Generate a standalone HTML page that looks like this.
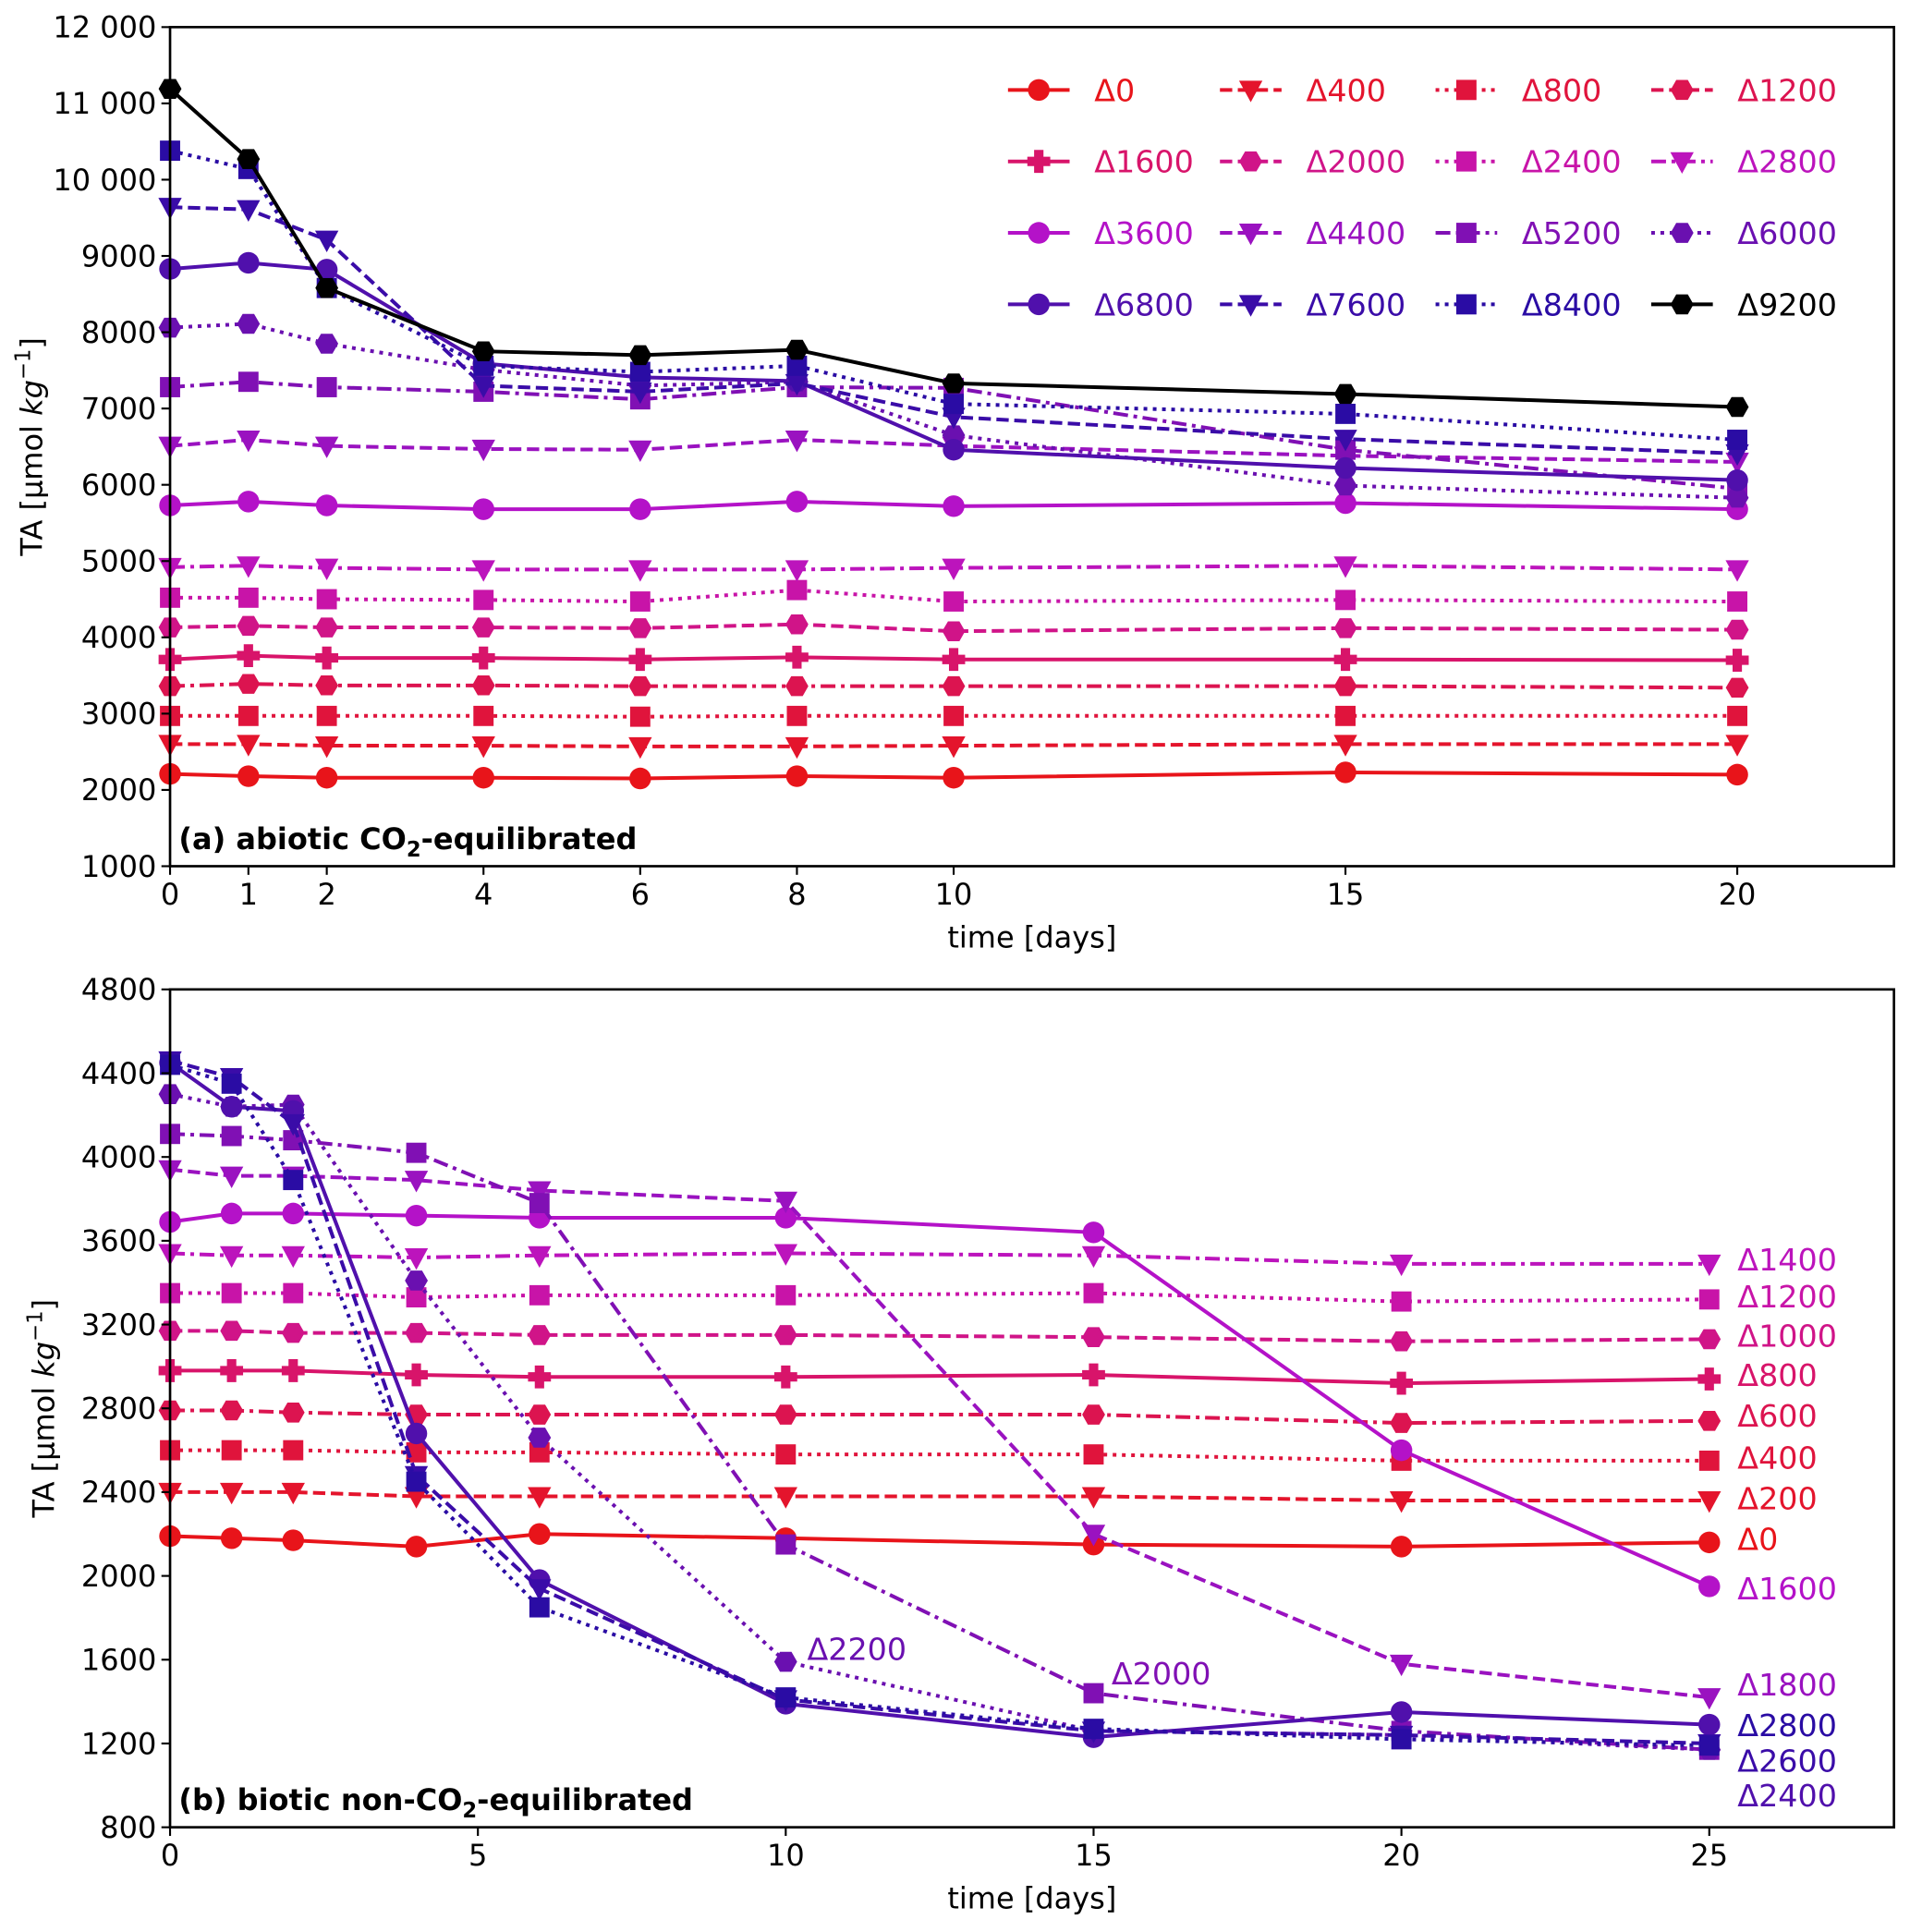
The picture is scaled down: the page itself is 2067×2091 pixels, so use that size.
<!DOCTYPE html>
<html><head><meta charset="utf-8">
<style>
html,body{margin:0;padding:0;background:#fff;}
svg{display:block;}
text{font-family:"DejaVu Sans","Liberation Sans",sans-serif;}
</style></head>
<body>
<svg id="chart" xmlns="http://www.w3.org/2000/svg" width="2067" height="2091" viewBox="0 0 1550 1568" preserveAspectRatio="none">
<g id="panelA"></g>
<g id="panelB"></g>
</svg>
<script>
// ---------- data: panel (a) ----------
const daysA = [0,1,2,4,6,8,10,15,20];
const xTicksA = [0,1,2,4,6,8,10,15,20];
const yTicksA = [1000,2000,3000,4000,5000,6000,7000,8000,9000,10000,11000,12000];
const yTickLabelsA = ["1000","2000","3000","4000","5000","6000","7000","8000","9000","10 000","11 000","12 000"];
const labelsA = ["Δ0","Δ400","Δ800","Δ1200","Δ1600","Δ2000","Δ2400","Δ2800","Δ3600","Δ4400","Δ5200","Δ6000","Δ6800","Δ7600","Δ8400","Δ9200"];
const a0    = [2210,2180,2160,2160,2150,2180,2160,2230,2200];
const a400  = [2600,2600,2580,2580,2570,2570,2580,2600,2600];
const a800  = [2970,2970,2970,2970,2960,2970,2970,2970,2970];
const a1200 = [3360,3390,3370,3370,3360,3360,3360,3360,3340];
const a1600 = [3710,3760,3730,3730,3710,3740,3710,3710,3700];
const a2000 = [4130,4150,4130,4130,4120,4170,4080,4120,4100];
const a2400 = [4520,4520,4500,4490,4470,4620,4470,4490,4470];
const a2800 = [4920,4940,4910,4890,4890,4890,4910,4940,4890];
const a3600 = [5730,5780,5730,5680,5680,5780,5720,5760,5680];
const a4400 = [6510,6590,6510,6470,6460,6590,6510,6380,6300];
const a5200 = [7280,7350,7280,7220,7120,7280,7270,6460,5950];
const a6000 = [8060,8110,7850,7510,7300,7350,6650,5990,5830];
const a6800 = [8830,8910,8820,7590,7410,7360,6460,6220,6060];
const a7600 = [9640,9610,9210,7300,7220,7330,6890,6600,6410];
const a8400 = [10380,10140,8580,7560,7480,7560,7060,6930,6590];
const a9200 = [11190,10270,8580,7750,7700,7770,7330,7190,7020];
const valuesA = [a0,a400,a800,a1200,a1600,a2000,a2400,a2800,a3600,a4400,a5200,a6000,a6800,a7600,a8400,a9200];

// ---------- data: panel (b) ----------
const daysB = [0,1,2,4,6,10,15,20,25];
const xTicksB = [0,5,10,15,20,25];
const yTicksB = [800,1200,1600,2000,2400,2800,3200,3600,4000,4400,4800];
const labelsB = ["Δ0","Δ200","Δ400","Δ600","Δ800","Δ1000","Δ1200","Δ1400","Δ1600","Δ1800","Δ2000","Δ2200","Δ2400","Δ2600","Δ2800"];
const b0    = [2190,2180,2170,2140,2200,2180,2150,2140,2160];
const b200  = [2400,2400,2400,2380,2380,2380,2380,2360,2360];
const b400  = [2600,2600,2600,2590,2590,2580,2580,2550,2550];
const b600  = [2790,2790,2780,2770,2770,2770,2770,2730,2740];
const b800  = [2980,2980,2980,2960,2950,2950,2960,2920,2940];
const b1000 = [3170,3170,3160,3160,3150,3150,3140,3120,3130];
const b1200 = [3350,3350,3350,3330,3340,3340,3350,3310,3320];
const b1400 = [3540,3530,3530,3520,3530,3540,3530,3490,3490];
const b1600 = [3690,3730,3730,3720,3710,3710,3640,2600,1950];
const b1800 = [3940,3910,3910,3890,3840,3790,2200,1580,1420];
const b2000 = [4110,4100,4080,4020,3780,2150,1440,1260,1170];
const b2200 = [4300,4240,4250,3410,2660,1590,1260,1240,1170];
const b2400 = [4450,4240,4220,2680,1980,1390,1230,1350,1290];
const b2600 = [4460,4380,4160,2480,1940,1410,1260,1240,1200];
const b2800 = [4440,4350,3890,2450,1850,1420,1270,1220,1190];
const valuesB = [b0,b200,b400,b600,b800,b1000,b1200,b1400,b1600,b1800,b2000,b2200,b2400,b2600,b2800];

// ---------- styles (not data) ----------
const colA = ["#e8141a","#e4142c","#e0143c","#dc1450","#d8146a","#d01488","#c814a8","#bc14bc","#b412c8","#9a12c0","#8010b4","#6a10b0","#5010ac","#3a0ca8","#2a0ca4","#000000"];
const colB = ["#e8141a","#e4142c","#e0143c","#dc1450","#d8146a","#d01488","#c814a8","#bc14bc","#b412c8","#9a12c0","#8010b4","#6a10b0","#5010ac","#3a0ca8","#2a0ca4"];
const mkA = ["o","v","s","h","P","h","s","v","o","v","s","h","o","v","s","h"];
const lsA = ["-","--",":","-.","-","--",":","-.","-","--","-.",":","-","--",":","-"];
const mkB = ["o","v","s","h","P","h","s","v","o","v","s","h","o","v","s"];
const lsB = ["-","--",":","-.","-","--",":","-.","-","--","-.",":","-","--",":"];

const NS = "http://www.w3.org/2000/svg";
function el(tag, attrs, parent){
  const e = document.createElementNS(NS, tag);
  for (const k in attrs) e.setAttribute(k, attrs[k]);
  parent.appendChild(e);
  return e;
}
function dash(ls){
  if (ls==="--") return "10,4.5";
  if (ls===":") return "3,4.5";
  if (ls==="-.") return "12,4.5,3,4.5";
  return "none";
}
function marker(type, x, y, color, parent){
  const r = 8.8;
  let m;
  if (type==="o") m = el("circle",{cx:x,cy:y,r:r,fill:color},parent);
  else if (type==="s") m = el("rect",{x:x-8.2,y:y-8.2,width:16.4,height:16.4,fill:color},parent);
  else if (type==="v") m = el("polygon",{points:`${x-9.5},${y-7.5} ${x+9.5},${y-7.5} ${x},${y+10}`,fill:color},parent);
  else if (type==="h"){
    let p=[]; for(let i=0;i<6;i++){const a=Math.PI/3*i; p.push((x+9.3*Math.cos(a)).toFixed(1)+","+(y+9.3*Math.sin(a)).toFixed(1));}
    m = el("polygon",{points:p.join(" "),fill:color},parent);
  } else {
    const w=3.8,L=9.3;
    m = el("polygon",{points:`${x-w},${y-L} ${x+w},${y-L} ${x+w},${y-w} ${x+L},${y-w} ${x+L},${y+w} ${x+w},${y+w} ${x+w},${y+L} ${x-w},${y+L} ${x-w},${y+w} ${x-L},${y+w} ${x-L},${y-w} ${x-w},${y-w}`,fill:color},parent);
  }
  return m;
}

function drawPanel(g, cfg){
  const sx = v => cfg.left + (v-cfg.xmin)/(cfg.xmax-cfg.xmin)*(cfg.right-cfg.left);
  const sy = v => cfg.bottom - (v-cfg.ymin)/(cfg.ymax-cfg.ymin)*(cfg.bottom-cfg.top);
  cfg.values.forEach((vals,i)=>{
    const sg = el("g",{},g);
    
    
    const pts = vals.map((v,j)=>sx(cfg.days[j]).toFixed(1)+","+sy(v).toFixed(1)).join(" ");
    const pl = el("polyline",{points:pts,fill:"none",stroke:cfg.colors[i],"stroke-width":3,"stroke-dasharray":dash(cfg.ls[i])},sg);
    
    
    vals.forEach((v,j)=>{
      const m = marker(cfg.mk[i], sx(cfg.days[j]), sy(v), cfg.colors[i], sg);
      
      
    });
  });
  const fr = el("rect",{x:cfg.left,y:cfg.top,width:cfg.right-cfg.left,height:cfg.bottom-cfg.top,fill:"none",stroke:"#000","stroke-width":2},g);
  
  
  cfg.xticks.forEach(t=>{
    const x = sx(t);
    el("line",{x1:x,x2:x,y1:cfg.bottom,y2:cfg.bottom+7,stroke:"#000","stroke-width":1.6},g);
    const tx = el("text",{x:x,y:cfg.bottom+31,"font-size":24,"text-anchor":"middle"},g);
    tx.textContent = t;
    
    
  });
  cfg.yticks.forEach((t,k)=>{
    const y = sy(t);
    el("line",{x1:cfg.left-7,x2:cfg.left,y1:y,y2:y,stroke:"#000","stroke-width":1.6},g);
    const tx = el("text",{x:cfg.left-11,y:y+8.5,"font-size":24,"text-anchor":"end"},g);
    tx.textContent = cfg.ylabels ? cfg.ylabels[k] : t;
    
    
  });
  const xt = el("text",{x:(cfg.left+cfg.right)/2,y:cfg.bottom+66,"font-size":24,"text-anchor":"middle"},g);
  xt.textContent = "time [days]";
  
  
  const cy = (cfg.top+cfg.bottom)/2;
  const yt = el("text",{x:0,y:0,"font-size":24,"text-anchor":"middle",transform:`translate(${cfg.ylx},${cy}) rotate(-90)`},g);
  yt.innerHTML = 'TA [µmol <tspan font-style="italic">kg</tspan><tspan baseline-shift="super" font-size="17">−1</tspan>]';
  
  
  const pt = el("text",{x:cfg.left+7,y:cfg.bottom-14,"font-size":24,"font-weight":"bold"},g);
  pt.innerHTML = cfg.title;
  
  
  return {sx,sy};
}

const gA = document.getElementById("panelA");
drawPanel(gA,{left:138,right:1537,top:22,bottom:703,xmin:0,xmax:22,ymin:1000,ymax:12000,
  values:valuesA,days:daysA,labels:labelsA,colors:colA,mk:mkA,ls:lsA,xticks:xTicksA,yticks:yTicksA,ylabels:yTickLabelsA,ylx:34,
  title:'(a) abiotic CO<tspan font-size="17" dy="6">2</tspan><tspan dy="-6">-equilibrated</tspan>'});

const legA = el("g",{},gA);


const legLs = ["-","--",":","--","-","--",":","-.","-","--","-.",":","-","--",":","-"];
const colX = [818,990,1165,1340], rowY = [73,131,189,247];
labelsA.forEach((lab,i)=>{
  const cx = colX[i%4], ry = rowY[Math.floor(i/4)];
  const e = el("g",{},legA);
  
  
  el("line",{x1:cx,x2:cx+50,y1:ry,y2:ry,stroke:colA[i],"stroke-width":3,"stroke-dasharray":dash(legLs[i])},e);
  marker(mkA[i], cx+25, ry, colA[i], e);
  const t = el("text",{x:cx+70,y:ry+9,"font-size":25,fill:colA[i]},e);
  t.textContent = lab;
});

const gB = document.getElementById("panelB");
drawPanel(gB,{left:138,right:1537,top:803,bottom:1483,xmin:0,xmax:28,ymin:800,ymax:4800,
  values:valuesB,days:daysB,labels:labelsB,colors:colB,mk:mkB,ls:lsB,xticks:xTicksB,yticks:yTicksB,ylx:44,
  title:'(b) biotic non-CO<tspan font-size="17" dy="6">2</tspan><tspan dy="-6">-equilibrated</tspan>'});

const rl = [[0,1249],[1,1216],[2,1183],[3,1149],[4,1116],[5,1084],[6,1052],[7,1022],[8,1289],[9,1367],[12,1457],[13,1429],[14,1400]];
rl.forEach(([i,y])=>{
  const t = el("text",{x:1410,y:y+9,"font-size":25,fill:colB[i]},gB);
  t.textContent = labelsB[i];
  
  
});
const t22 = el("text",{x:655,y:1347,"font-size":25,fill:colB[11]},gB);
t22.textContent = labelsB[11];


const t20 = el("text",{x:902,y:1367,"font-size":25,fill:colB[10]},gB);
t20.textContent = labelsB[10];


</script>
</body></html>
